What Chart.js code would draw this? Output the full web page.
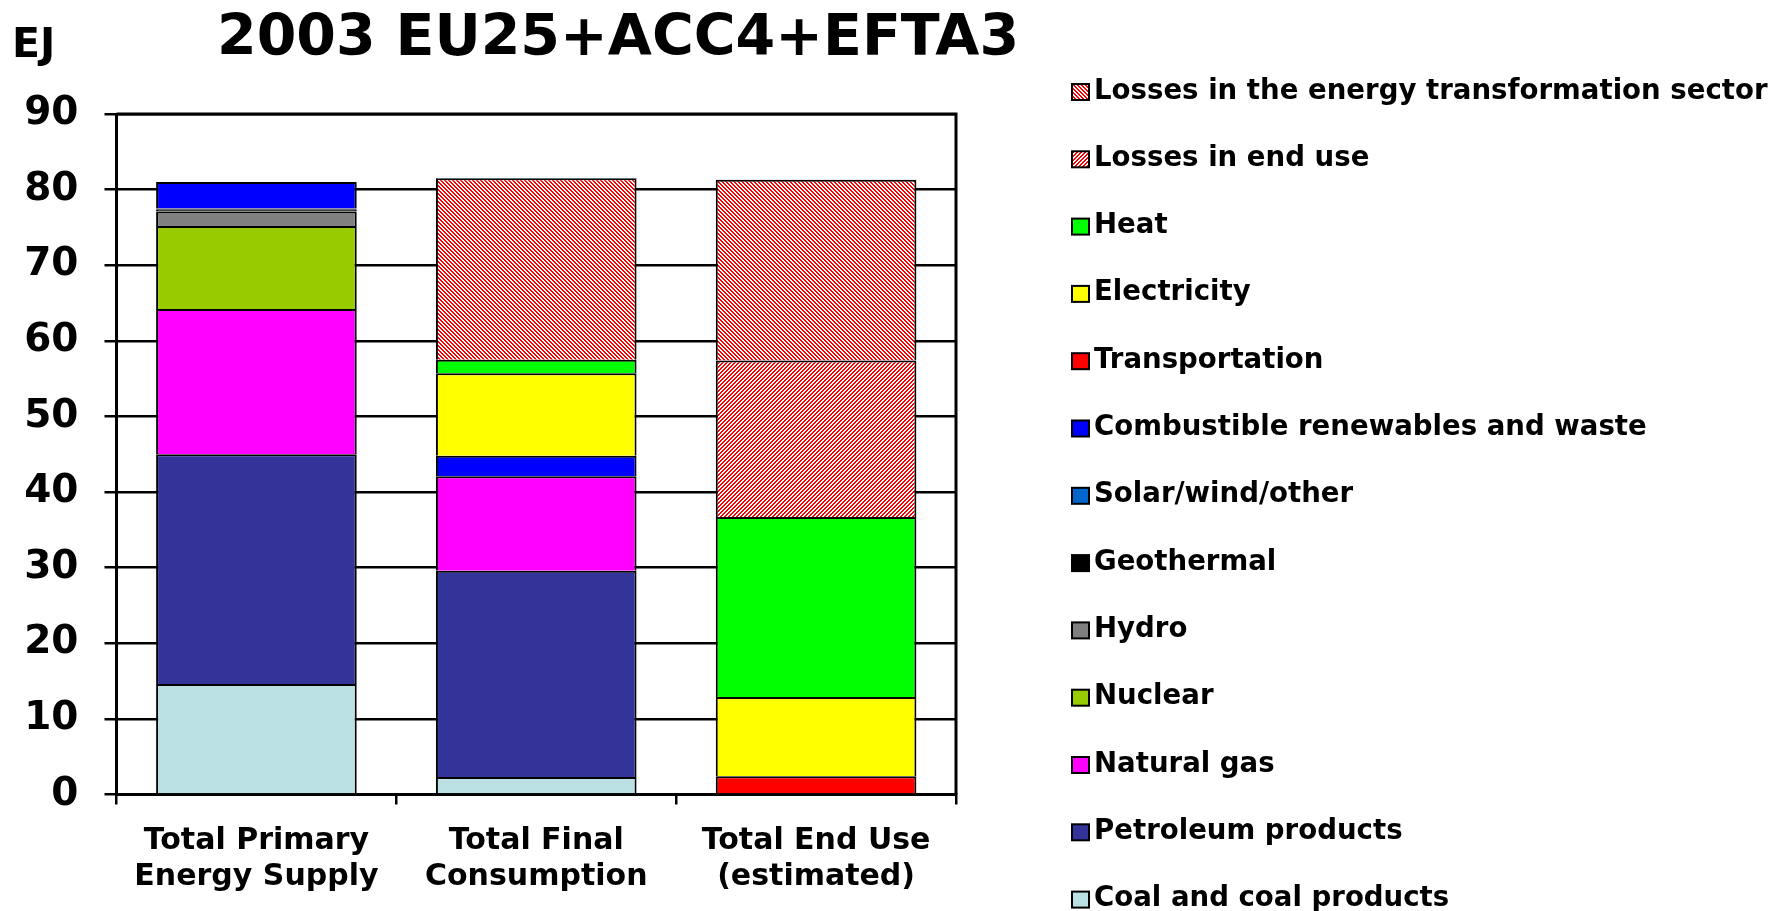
<!DOCTYPE html>
<html>
<head>
<meta charset="utf-8">
<script src="https://cdn.jsdelivr.net/npm/chart.js@4.4.1/dist/chart.umd.min.js"></script>
<style>
  html, body { margin: 0; padding: 0; background: #ffffff; }
  canvas { display: block; }
</style>
</head>
<body>
<canvas id="c" width="1782" height="911"></canvas>
<script>
// ---- Data (EJ) ----
const categories = [["Total Primary", "Energy Supply"], ["Total Final", "Consumption"], ["Total End Use", "(estimated)"]];
const yTicks = [0, 10, 20, 30, 40, 50, 60, 70, 80, 90];
const chartTitle = "2003 EU25+ACC4+EFTA3";
const unitLabel = "EJ";

const coal           = [14.6, 2.3, null];
const petroleum      = [30.4, 27.3, null];
const naturalGas     = [19.2, 12.5, null];
const nuclear        = [11.0, null, null];
const hydro          = [1.9, null, null];
const geothermal     = [0.3, null, null];
const solarWind      = [0.1, null, null];
const combustible    = [3.5, 2.7, null];
const transportation = [null, null, 2.4];
const electricity    = [null, 10.9, 10.5];
const heat           = [null, 1.8, 23.8];
const lossesEndUse   = [null, null, 20.7];
const lossesTransf   = [null, 24.0, 23.9];

// ---- Patterns ----
function makeStripes(dir) {
  const c = document.createElement('canvas');
  c.width = 8; c.height = 8;
  const g = c.getContext('2d');
  const img = g.createImageData(8, 8);
  for (let py = 0; py < 8; py++) {
    for (let px = 0; px < 8; px++) {
      const k = dir === 'back' ? (((px - py) % 4) + 4) % 4 : (px + py) % 4;
      const red = k < 2;
      const i = (py * 8 + px) * 4;
      img.data[i] = 255;
      img.data[i + 1] = red ? 0 : 255;
      img.data[i + 2] = red ? 0 : 255;
      img.data[i + 3] = 255;
    }
  }
  g.putImageData(img, 0, 0);
  return document.getElementById('c').getContext('2d').createPattern(c, 'repeat');
}
const patTransf = makeStripes('back');
const patEndUse = makeStripes('fwd');

const FONT = "'DejaVu Sans', 'Verdana', sans-serif";

const seriesDefs = [
  ["Coal and coal products", coal, "#BBE0E3"],
  ["Petroleum products", petroleum, "#333399"],
  ["Natural gas", naturalGas, "#FF00FF"],
  ["Nuclear", nuclear, "#99CC00"],
  ["Hydro", hydro, "#808080"],
  ["Geothermal", geothermal, "#000000"],
  ["Solar/wind/other", solarWind, "#0066CC"],
  ["Combustible renewables and waste", combustible, "#0000FF"],
  ["Transportation", transportation, "#FF0000"],
  ["Electricity", electricity, "#FFFF00"],
  ["Heat", heat, "#00FF00"],
  ["Losses in end use", lossesEndUse, patEndUse],
  ["Losses in the energy transformation sector", lossesTransf, patTransf]
];

const datasets = seriesDefs.map(([label, data, color]) => ({
  label, data,
  backgroundColor: color,
  borderColor: "#000000",
  borderWidth: 2,
  barPercentage: 0.717,
  categoryPercentage: 1.0
}));

const extrasPlugin = {
  id: 'extras',
  afterDraw(chart) {
    const ctx = chart.ctx;
    const a = chart.chartArea;
    ctx.save();
    // frame
    ctx.strokeStyle = '#000';
    ctx.lineWidth = 3;
    ctx.beginPath();
    ctx.moveTo(a.left, a.top);
    ctx.lineTo(a.right, a.top);
    ctx.lineTo(a.right, a.bottom);
    ctx.stroke();
    // title + unit
    ctx.fillStyle = '#000';
    ctx.textBaseline = 'alphabetic';
    ctx.textAlign = 'left';
    ctx.font = "bold 57px " + FONT;
    ctx.fillText(chartTitle, 217, 55);
    ctx.font = "bold 41px " + FONT;
    ctx.fillText(unitLabel, 12, 57);
    // legend (reverse order: top of stack first)
    const ds = chart.data.datasets.slice().reverse();
    ctx.font = "bold 27.6px " + FONT;
    ds.forEach((d, i) => {
      const base = 98.5 + i * 67.3;
      ctx.fillStyle = d.backgroundColor;
      ctx.fillRect(1072, base - 14.5, 17, 16);
      ctx.lineWidth = 2;
      ctx.strokeStyle = '#000';
      ctx.strokeRect(1072, base - 14.5, 17, 16);
      ctx.fillStyle = '#000';
      ctx.fillText(d.label, 1094, base);
    });
    ctx.restore();
  }
};

new Chart(document.getElementById('c'), {
  type: 'bar',
  data: { labels: categories, datasets },
  plugins: [extrasPlugin],
  options: {
    responsive: false,
    animation: false,
    devicePixelRatio: 1,
    layout: { padding: { left: 0, top: 114, right: 826, bottom: 0 } },
    plugins: {
      legend: { display: false },
      tooltip: { enabled: false },
      title: { display: false }
    },
    scales: {
      x: {
        stacked: true,
        offset: true,
        afterFit(s) { s.height = 116.5; },
        grid: { display: true, drawOnChartArea: false, drawTicks: true, tickLength: 10, offset: true, color: '#000', lineWidth: 2.5 },
        border: { display: true, color: '#000', width: 3 },
        ticks: { color: '#000', padding: 19, maxRotation: 0, autoSkip: false, font: { family: FONT, weight: 'bold', size: 30, lineHeight: 1.2 } }
      },
      y: {
        stacked: true,
        min: 0, max: 90,
        afterFit(s) { s.width = 116.5; },
        afterBuildTicks(s) { s.ticks = yTicks.map(v => ({ value: v })); },
        grid: { color: '#000', lineWidth: 2.5, tickLength: 12, drawTicks: true },
        border: { display: true, color: '#000', width: 3 },
        ticks: { color: '#000', padding: 26, font: { family: FONT, weight: 'bold', size: 39 } }
      }
    }
  }
});
</script>
</body>
</html>
